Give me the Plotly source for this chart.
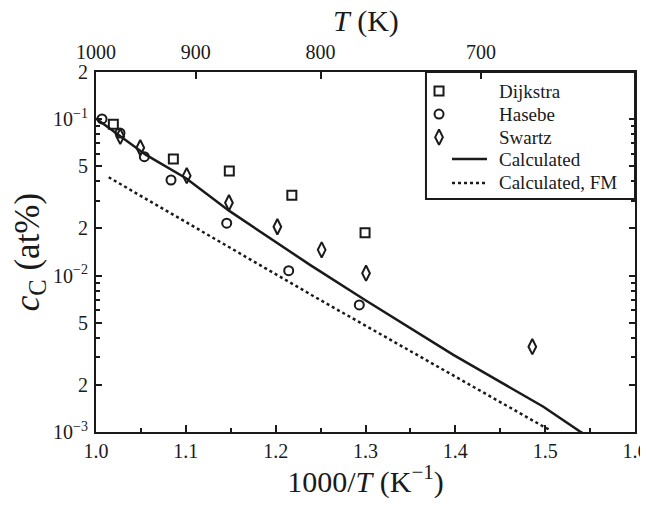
import plotly.graph_objects as go

# ---- data ----
dijkstra_x = [1.0193, 1.0861, 1.1484, 1.2180, 1.2995]
dijkstra_y = [0.0927, 0.0556, 0.0466, 0.0326, 0.0188]

hasebe_x = [1.0067, 1.0267, 1.0538, 1.0835, 1.1455, 1.2145, 1.2931]
hasebe_y = [0.1002, 0.0815, 0.0575, 0.0408, 0.0216, 0.01075, 0.00649]

swartz_x = [1.0270, 1.0493, 1.1010, 1.1480, 1.2019, 1.2512, 1.3006, 1.4857]
swartz_y = [0.0775, 0.0656, 0.0435, 0.0292, 0.0205, 0.0146, 0.01035, 0.00351]

calc_x = [1.0, 1.0259, 1.0557, 1.1002, 1.1484, 1.2382, 1.2995, 1.3978, 1.4980, 1.5388, 1.545]
calc_y = [0.101, 0.0791, 0.059, 0.0419, 0.0259, 0.0117, 0.00698, 0.00311, 0.00145, 0.001007, 0.00096]

fm_x = [1.0141, 1.2382, 1.2449, 1.4980, 1.5054]
fm_y = [0.0425, 0.00752, 0.00723, 0.001084, 0.00103]

top_T = [1000, 900, 800, 700]
y_tickvals = [0.2, 0.1, 0.05, 0.02, 0.01, 0.005, 0.002, 0.001]
y_ticktext = ["2", "10<sup>−1</sup>", "5", "2", "10<sup>−2</sup>", "5", "2", "10<sup>−3</sup>"]
y_minor = [m * d for d in (0.001, 0.01, 0.1) for m in range(1, 10)] + [0.2]

legend_names = ["Dijkstra", "Hasebe", "Swartz", "Calculated", "Calculated, FM"]

INK = "#1a1a1a"
FONT = "Liberation Serif"

fig = go.Figure()

mk = dict(size=9, color=INK, line=dict(width=2, color=INK))
dmk = dict(symbol="diamond-tall-open", size=11, color=INK, line=dict(width=2, color=INK))
fig.add_trace(go.Scatter(x=dijkstra_x, y=dijkstra_y, mode="markers",
                         marker=dict(symbol="square-open", **mk), showlegend=False))
fig.add_trace(go.Scatter(x=hasebe_x, y=hasebe_y, mode="markers",
                         marker=dict(symbol="circle-open", **mk), showlegend=False))
fig.add_trace(go.Scatter(x=swartz_x, y=swartz_y, mode="markers",
                         marker=dmk, showlegend=False))
fig.add_trace(go.Scatter(x=calc_x, y=calc_y, mode="lines",
                         line=dict(color=INK, width=2.5), showlegend=False))
fig.add_trace(go.Scatter(x=fm_x, y=fm_y, mode="lines",
                         line=dict(color=INK, width=2.5, dash="3px,3px"), showlegend=False))
# invisible trace to carry the top (temperature) axis
fig.add_trace(go.Scatter(x=[1.0, 1.6], y=[0.01, 0.01], xaxis="x2", mode="markers",
                         marker=dict(opacity=0), showlegend=False, hoverinfo="skip"))

# ---- custom legend drawn on an overlay axis in [0,1] ----
rows = [0.947, 0.883, 0.819, 0.758, 0.692]
mx = 0.6364
fig.add_trace(go.Scatter(x=[mx], y=[rows[0]], xaxis="x3", yaxis="y3", mode="markers",
                         marker=dict(symbol="square-open", **mk), showlegend=False))
fig.add_trace(go.Scatter(x=[mx], y=[rows[1]], xaxis="x3", yaxis="y3", mode="markers",
                         marker=dict(symbol="circle-open", **mk), showlegend=False))
fig.add_trace(go.Scatter(x=[mx], y=[rows[2]], xaxis="x3", yaxis="y3", mode="markers",
                         marker=dmk, showlegend=False))
fig.add_trace(go.Scatter(x=[0.6605, 0.7254], y=[rows[3]] * 2, xaxis="x3", yaxis="y3",
                         mode="lines", line=dict(color=INK, width=2.5), showlegend=False))
fig.add_trace(go.Scatter(x=[0.6605, 0.7254], y=[rows[4]] * 2, xaxis="x3", yaxis="y3",
                         mode="lines", line=dict(color=INK, width=2.5, dash="3px,3px"),
                         showlegend=False))
for name, yy in zip(legend_names, rows):
    fig.add_annotation(x=0.744, y=yy, xref="x3", yref="y3", text=name, showarrow=False,
                       xanchor="left", yanchor="middle", font=dict(family=FONT, size=19, color=INK))

fig.add_shape(type="rect", xref="paper", yref="paper", x0=0.6122, x1=1.0, y0=0.647, y1=1.0,
              line=dict(color=INK, width=2))

# top axis title
fig.add_annotation(x=0.5, y=1.142, xref="paper", yref="paper", text="<i>T</i> (K)",
                   showarrow=False, xanchor="center", yanchor="middle",
                   font=dict(family=FONT, size=30, color=INK))

axis_common = dict(showline=True, linecolor=INK, linewidth=2, ticks="inside",
                   tickcolor=INK, tickwidth=2, showgrid=False, zeroline=False,
                   automargin=False,
                   tickfont=dict(family=FONT, size=20, color=INK))

# the page adds an 8px body margin, so the figure is smaller and margins are shifted
fig.update_layout(
    width=640, height=491,
    margin=dict(l=88, r=13, t=64, b=67),
    paper_bgcolor="white", plot_bgcolor="white",
    font=dict(family=FONT, color=INK),
    xaxis=dict(range=[1.0, 1.6], dtick=0.1, tick0=1.0, tickformat=".1f", ticklen=7,
               ticklabeloverflow="allow",
               minor=dict(dtick=0.05, ticks="inside", ticklen=4, tickcolor=INK, tickwidth=2),
               title=dict(text="1000/<i>T</i> (K<sup>−1</sup>)", font=dict(family=FONT, size=30),
                          standoff=2),
               **axis_common),
    xaxis2=dict(range=[1.0, 1.6], overlaying="x", side="top", anchor="y",
                tickmode="array", tickvals=[1000.0 / t for t in top_T],
                ticktext=[str(t) for t in top_T], ticklen=7, ticklabelstandoff=3,
                **axis_common),
    yaxis=dict(type="log", range=[-3, -0.69897], tickmode="array",
               tickvals=y_tickvals, ticktext=y_ticktext, ticklen=6, mirror="ticks",
               ticklabelstandoff=2,
               minor=dict(tickmode="array", tickvals=y_minor, ticks="inside", ticklen=4,
                          tickcolor=INK, tickwidth=2),
               title=dict(text="<i>c</i><sub>C</sub> (at%)", font=dict(family=FONT, size=35),
                          standoff=4),
               **axis_common),
    xaxis3=dict(range=[0, 1], overlaying="x", anchor="y3", visible=False),
    yaxis3=dict(range=[0, 1], overlaying="y", anchor="x3", visible=False),
)

fig.write_html("out.html")
